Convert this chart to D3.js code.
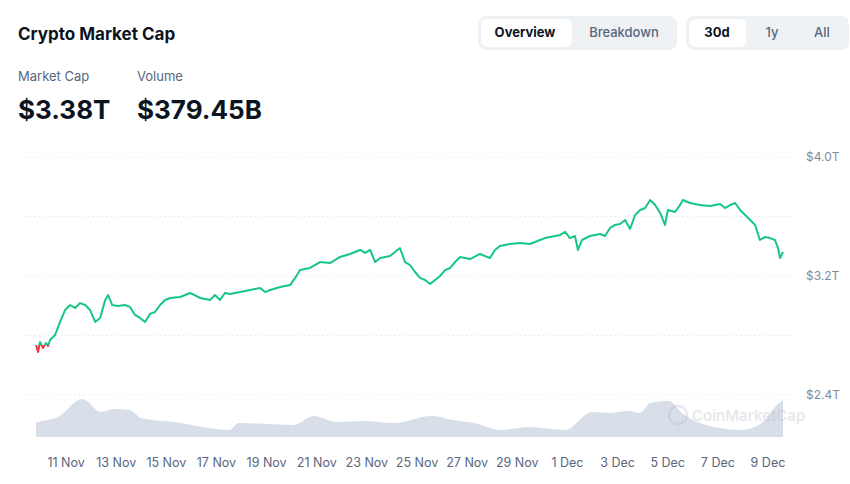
<!DOCTYPE html>
<html>
<head>
<meta charset="utf-8">
<script src="https://cdn.jsdelivr.net/npm/d3@7"></script>
<style>
  body { margin: 0; background: #fff; font-family: Inter, "Noto Sans", sans-serif; }
</style>
</head>
<body>
<svg id="chart" width="850" height="484"></svg>
<script>
// days since 9 Nov 00:00, market cap in $T
const capDays = [0.80,0.88,0.96,1.08,1.20,1.28,1.36,1.56,1.76,1.96,2.16,2.36,2.56,2.76,2.96,3.16,3.36,3.56,3.68,3.84,4.07,4.35,4.55,4.75,4.95,5.15,5.35,5.55,5.75,5.95,6.15,6.55,6.95,7.35,7.74,7.94,8.14,8.34,8.54,8.94,9.34,9.74,9.94,10.14,10.54,10.94,11.14,11.33,11.73,12.13,12.53,12.93,13.33,13.73,13.93,14.13,14.33,14.53,14.92,15.32,15.52,15.72,15.92,16.12,16.32,16.52,16.72,16.92,17.12,17.32,17.52,17.72,18.12,18.51,18.91,19.11,19.31,19.71,20.11,20.51,20.91,21.11,21.31,21.71,21.91,22.10,22.30,22.42,22.58,22.90,23.30,23.50,23.70,23.90,24.10,24.30,24.50,24.70,24.90,25.10,25.30,25.50,25.70,25.89,26.01,26.29,26.49,26.61,26.89,27.29,27.69,28.09,28.29,28.49,28.69,28.89,29.09,29.29,29.49,29.68,29.88,30.08,30.28,30.40,30.48,30.60];
const capValues = [2.736,2.689,2.756,2.716,2.750,2.729,2.770,2.803,2.891,2.971,3.005,2.985,3.018,3.005,2.971,2.891,2.918,3.039,3.072,3.005,2.998,3.005,2.992,2.938,2.918,2.891,2.945,2.958,3.005,3.039,3.052,3.059,3.086,3.052,3.039,3.072,3.039,3.086,3.079,3.092,3.106,3.119,3.092,3.106,3.126,3.139,3.187,3.240,3.254,3.294,3.287,3.328,3.348,3.375,3.355,3.375,3.294,3.321,3.334,3.388,3.294,3.274,3.227,3.187,3.173,3.146,3.173,3.200,3.240,3.254,3.294,3.328,3.314,3.348,3.321,3.375,3.402,3.415,3.422,3.415,3.442,3.455,3.462,3.476,3.496,3.455,3.469,3.375,3.442,3.469,3.482,3.469,3.523,3.543,3.550,3.576,3.516,3.610,3.644,3.657,3.711,3.677,3.624,3.543,3.644,3.630,3.677,3.711,3.691,3.677,3.671,3.684,3.657,3.677,3.691,3.644,3.610,3.576,3.543,3.442,3.462,3.455,3.442,3.388,3.321,3.361];
// volume in $B
const volDays = [0.80,0.88,1.68,2.64,3.40,3.92,4.55,4.99,6.59,7.43,8.50,8.90,11.06,11.89,12.77,13.81,15.08,16.60,17.44,18.28,19.35,20.43,21.91,22.98,23.62,24.46,24.90,25.30,26.05,26.57,27.85,28.93,29.76,30.40,30.60];
const volValues = [115,120,160,304,200,224,216,152,112,80,56,112,96,168,120,128,112,168,136,112,56,80,56,200,192,208,192,272,288,192,80,56,112,264,296];
const tickDays = [2,4,6,8,10,12,14,16,18,20,22,24,26,28,30];
const tickLabels = ['11 Nov','13 Nov','15 Nov','17 Nov','19 Nov','21 Nov','23 Nov','25 Nov','27 Nov','29 Nov','1 Dec','3 Dec','5 Dec','7 Dec','9 Dec'];
const yTicks = [2.4,2.8,3.2,3.6,4.0];
const yLabelTicks = [2.4,3.2,4.0];

const svg = d3.select('#chart');

// header
svg.append('text').attr('x', 18).attr('y', 40).attr('font-size', 17).attr('font-weight', 700)
  .attr('fill', '#0d1421').text('Crypto Market Cap');

function toggle(x, w, innerW, labels, centers) {
  svg.append('rect').attr('x', x).attr('y', 16).attr('width', w).attr('height', 34).attr('rx', 8).attr('fill', '#eff2f5');
  svg.append('rect').attr('x', x + 3).attr('y', 19).attr('width', innerW).attr('height', 28).attr('rx', 6).attr('fill', '#fff');
  labels.forEach((t, i) => {
    svg.append('text').attr('x', centers[i]).attr('y', 37).attr('text-anchor', 'middle').attr('font-size', 13)
      .attr('font-weight', i === 0 ? 700 : 500).attr('fill', i === 0 ? '#0d1421' : '#58667e').text(t);
  });
}
toggle(478, 199, 91, ['Overview', 'Breakdown'], [525, 624]);
toggle(686, 163, 57, ['30d', '1y', 'All'], [717, 772, 822]);

svg.append('text').attr('x', 18).attr('y', 81).attr('font-size', 13).attr('fill', '#58667e').text('Market Cap');
svg.append('text').attr('x', 137).attr('y', 81).attr('font-size', 13).attr('fill', '#58667e').text('Volume');
svg.append('text').attr('x', 18).attr('y', 119).attr('font-size', 26).attr('font-weight', 700).attr('fill', '#0d1421').text('$3.38T');
svg.append('text').attr('x', 137).attr('y', 119).attr('font-size', 26).attr('font-weight', 700).attr('fill', '#0d1421').text('$379.45B');

// scales
const x = d3.scaleLinear().domain([0.8, 30.6]).range([36, 783]);
const y = d3.scaleLinear().domain([2.4, 4.0]).range([395, 157]);
const yVol = d3.scaleLinear().domain([0, 400]).range([437, 387]);

// grid
svg.append('g').selectAll('line').data(yTicks).join('line')
  .attr('x1', 25).attr('x2', 792).attr('y1', d => y(d)).attr('y2', d => y(d))
  .attr('stroke', '#e6e9ee').attr('stroke-dasharray', '1.5,3');

svg.append('g').selectAll('text').data(yLabelTicks).join('text')
  .attr('x', 806).attr('y', d => y(d) + 4).attr('font-size', 12).attr('fill', '#808a9d')
  .text(d => '$' + d.toFixed(1) + 'T');

// volume
const volData = volDays.map((d, i) => [d, volValues[i]]);
svg.append('path').datum(volData)
  .attr('d', d3.area().x(d => x(d[0])).y0(437).y1(d => yVol(d[1])).curve(d3.curveMonotoneX))
  .attr('fill', '#d5dbe7');
// thin bar stripes
const stripes = d3.range(36, 784, 3);
svg.append('g').selectAll('line').data(stripes).join('line')
  .attr('x1', d => d).attr('x2', d => d).attr('y1', 380).attr('y2', 437)
  .attr('stroke', '#fff').attr('stroke-opacity', 0.35).attr('stroke-width', 0.8);

// watermark
const wm = svg.append('g').attr('opacity', 0.35);
wm.append('circle').attr('cx', 678).attr('cy', 415).attr('r', 9).attr('fill', 'none').attr('stroke', '#b8bfcc').attr('stroke-width', 2.5);
wm.append('text').attr('x', 692).attr('y', 421).attr('font-size', 15).attr('font-weight', 600).attr('fill', '#b8bfcc').text('CoinMarketCap');

// market cap line, red below the opening value
const capData = capDays.map((d, i) => [d, capValues[i]]);
const startY = y(capValues[0]);
const defs = svg.append('defs');
defs.append('clipPath').attr('id', 'above').append('rect').attr('x', 0).attr('y', 0).attr('width', 850).attr('height', startY);
defs.append('clipPath').attr('id', 'below').append('rect').attr('x', 0).attr('y', startY).attr('width', 850).attr('height', 484);
const line = d3.line().x(d => x(d[0])).y(d => y(d[1]));
svg.append('path').datum(capData).attr('d', line).attr('fill', 'none').attr('stroke', '#16c784')
  .attr('stroke-width', 2).attr('stroke-linejoin', 'round').attr('clip-path', 'url(#above)');
svg.append('path').datum(capData).attr('d', line).attr('fill', 'none').attr('stroke', '#ea3943')
  .attr('stroke-width', 2).attr('stroke-linejoin', 'round').attr('clip-path', 'url(#below)');

// x axis labels
svg.append('g').selectAll('text').data(tickDays).join('text')
  .attr('x', d => x(d)).attr('y', 467).attr('text-anchor', 'middle').attr('font-size', 12.5).attr('fill', '#58667e')
  .text((d, i) => tickLabels[i]);
</script>
</body>
</html>
